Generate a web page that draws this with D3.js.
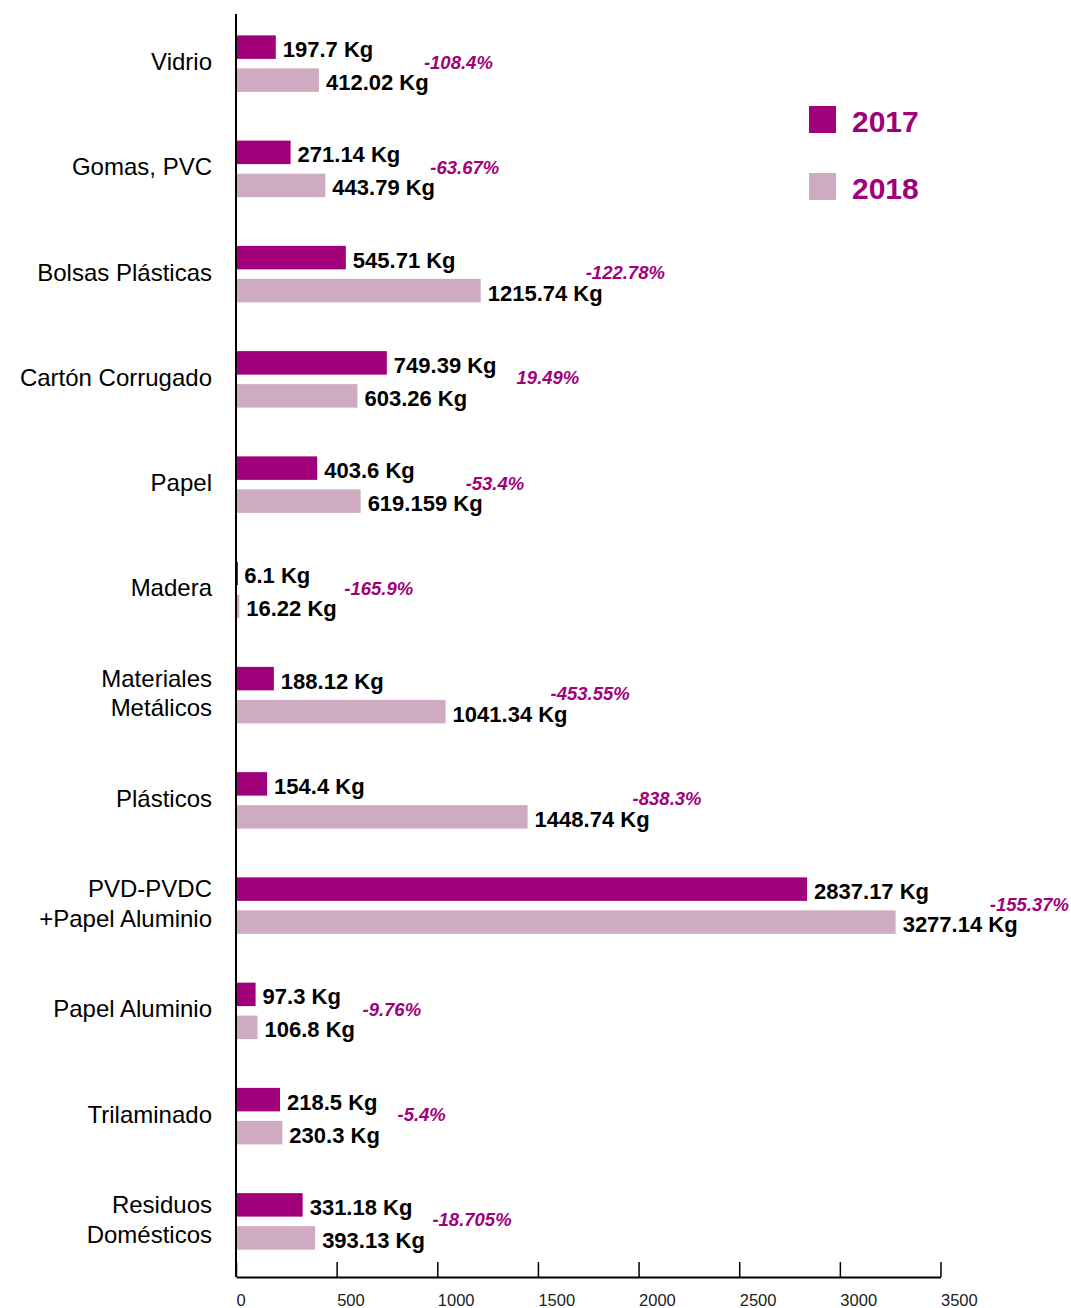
<!DOCTYPE html>
<html>
<head>
<meta charset="utf-8">
<script src="https://cdn.jsdelivr.net/npm/d3@7"></script>
<style>
  body { margin:0; background:#fff; }
  svg { display:block; font-family:"Liberation Sans", Arial, sans-serif; }
</style>
</head>
<body>
<div id="chart"></div>
<script>
// chart data
let categories = [['Vidrio'],['Gomas, PVC'],['Bolsas Plásticas'],['Cartón Corrugado'],['Papel'],['Madera'],
    ['Materiales','Metálicos'],['Plásticos'],['PVD-PVDC','+Papel Aluminio'],['Papel Aluminio'],['Trilaminado'],
    ['Residuos','Domésticos']];
let years = ['2017','2018'];
let values2017 = [197.7, 271.14, 545.71, 749.39, 403.6, 6.1, 188.12, 154.4, 2837.17, 97.3, 218.5, 331.18];
let values2018 = [412.02, 443.79, 1215.74, 603.26, 619.159, 16.22, 1041.34, 1448.74, 3277.14, 106.8, 230.3, 393.13];
let changes = [-108.4, -63.67, -122.78, 19.49, -53.4, -165.9, -453.55, -838.3, -155.37, -9.76, -5.4, -18.705];
let xTicks = [0, 500, 1000, 1500, 2000, 2500, 3000, 3500];

let sizes = {width:1071, height:1308};
let colors = {'2017':'#A0007A', '2018':'#CEABC1'};
let pctColor = '#A0007A';

let svg = d3.select('#chart').append('svg')
    .attr('width', sizes.width)
    .attr('height', sizes.height);

let x = d3.scaleLinear().domain([0, 3500]).range([236, 940.5]);
let keys = categories.map(c => c.join(' '));
let y = d3.scaleBand().domain(keys).range([14, 1277]);
let ySub = d3.scaleBand().domain(years).range([-28.25, 28.25]).paddingInner(0.288);

let rows = keys.map((k, i) => ({key:k, lines:categories[i], v:{'2017':values2017[i], '2018':values2018[i]}, pct:changes[i], lblEnd:0}));
function mid(d) { return y(d.key) + y.bandwidth()/2 - 3; }

// bars + value labels
let groups = svg.selectAll('g.cat')
    .data(rows)
    .enter()
    .append('g')
    .attr('class','cat')
    .attr('transform', d => 'translate(0,' + mid(d) + ')');

years.forEach(function (yr) {
    groups.append('rect')
        .attr('x', x(0))
        .attr('y', ySub(yr))
        .attr('width', d => Math.max(x(d.v[yr]) - x(0), 2))
        .attr('height', ySub.bandwidth())
        .attr('fill', colors[yr]);

    groups.append('text')
        .attr('x', d => x(d.v[yr]) + 7)
        .attr('y', ySub(yr) + ySub.bandwidth()/2 + 10)
        .attr('font-size', 22)
        .attr('font-weight', 'bold')
        .attr('fill', '#000')
        .text(d => d.v[yr] + ' Kg')
        .each(function (d) {
            if (yr === '2017') d.lblEnd = x(d.v[yr]) + 7 + this.getComputedTextLength();
        });
});

// category labels
groups.append('text')
    .attr('x', 212)
    .attr('text-anchor', 'end')
    .attr('font-size', 24)
    .attr('fill', '#000')
    .selectAll('tspan')
    .data(d => d.lines.map((l, i) => ({l:l, i:i, n:d.lines.length})))
    .enter()
    .append('tspan')
    .attr('x', 212)
    .attr('y', t => 6.5 + (t.i - (t.n - 1)/2) * 29.5)
    .text(t => t.l);

// percentage labels
groups.append('text')
    .attr('class','pct')
    .attr('y', 5)
    .attr('font-size', 18.5)
    .attr('font-weight', 'bold')
    .attr('font-style', 'italic')
    .attr('fill', pctColor)
    .text(d => d.pct + '%')
    .attr('x', function (d) {
        let w = this.getComputedTextLength();
        let px = Math.max(x(Math.max(d.v['2017'], d.v['2018'])) + 105, d.lblEnd + 20);
        return Math.min(px, sizes.width - 2 - w);
    });

// axes
svg.append('line')
    .attr('x1', x(0)).attr('x2', x(0))
    .attr('y1', 14).attr('y2', 1277)
    .attr('stroke', '#000').attr('stroke-width', 2);

let xAxis = svg.append('g')
    .attr('transform', 'translate(0,1277)')
    .call(d3.axisBottom(x).tickValues(xTicks).tickFormat(d3.format('d')).tickSize(-15).tickSizeOuter(0));
xAxis.select('.domain').attr('stroke', '#000').attr('stroke-width', 2);
xAxis.selectAll('.tick line').attr('stroke', '#000').attr('stroke-width', 1.5);
xAxis.selectAll('.tick text')
    .attr('font-family', '"Liberation Sans", Arial, sans-serif')
    .attr('font-size', 16.5)
    .attr('fill', '#222')
    .attr('text-anchor', 'start')
    .attr('x', 0)
    .attr('y', 29)
    .attr('dy', 0);

// legend
let legend = svg.selectAll('g.legend')
    .data(years)
    .enter()
    .append('g')
    .attr('class','legend')
    .attr('transform', (d, i) => 'translate(809,' + (106 + i*67) + ')');
legend.append('rect')
    .attr('width', 27).attr('height', 27)
    .attr('fill', d => colors[d]);
legend.append('text')
    .attr('x', 43).attr('y', 25.5)
    .attr('font-size', 30)
    .attr('font-weight', 'bold')
    .attr('fill', colors['2017'])
    .text(d => d);
</script>
</body>
</html>
